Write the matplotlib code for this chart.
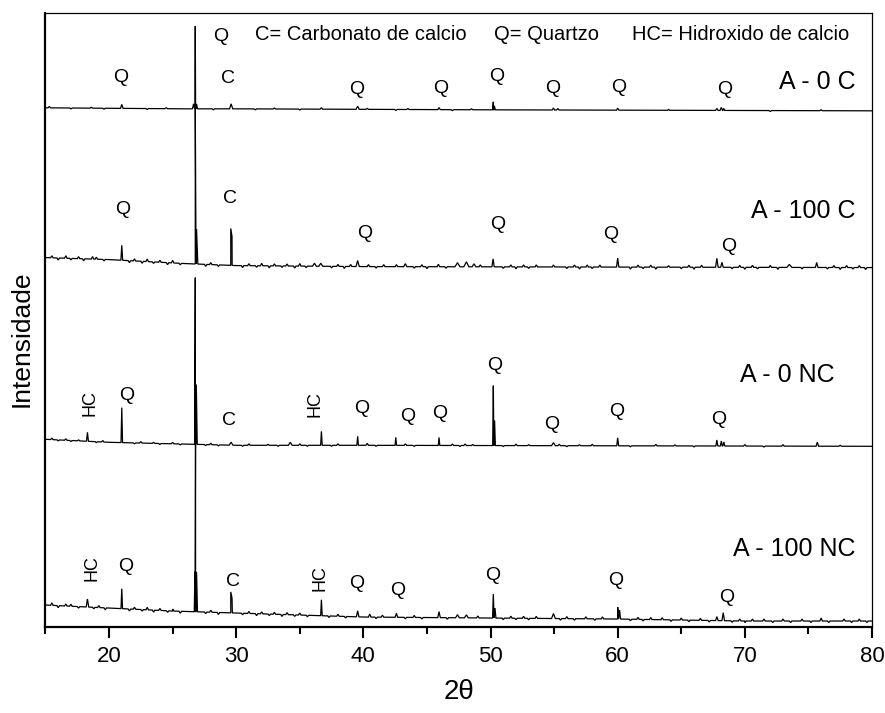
import numpy as np
import matplotlib
matplotlib.use("Agg")
import matplotlib.pyplot as plt
from matplotlib.ticker import MultipleLocator

plt.rcParams['font.family'] = ['Liberation Sans', 'DejaVu Sans']

# ---------------------------------------------------------------------------
# Diffractograms (2-theta in degrees, intensity in arbitrary stacked units)
# Each pattern: background knots, reflections (position, height, width)
# and small background fluctuations (position, height; negative = dip).
# ---------------------------------------------------------------------------
sample_names = ["A - 0 C", "A - 100 C", "A - 0 NC", "A - 100 NC"]

# A - 0 C
bg_x_0c = [15, 26, 30, 50, 80]
bg_y_0c = [1038, 1036, 1036, 1034, 1032]
pk_pos_0c = [21.0, 26.65, 26.78, 26.88, 29.6, 36.7, 39.55, 42.55, 45.95,
             50.22, 50.3, 54.95, 55.3, 60.0, 64.0, 67.8, 68.15, 68.35]
pk_h_0c = [8, 10, 166, 10, 10, 3, 6, -2, 4,
           16, 8, 4, 3, 4, 2, 4, 6, 4]
pk_w_0c = [0.2, 0.2, 0.12, 0.15, 0.25, 0.2, 0.25, 0.2, 0.2,
           0.12, 0.15, 0.2, 0.2, 0.2, 0.15, 0.2, 0.2, 0.15]
nz_pos_0c = [15.3, 17.0, 18.6, 19.6, 23.0, 24.5, 28.2, 31.5, 33.0, 35.0,
             40.3, 43.5, 47.0, 48.5, 72.0, 76.0]
nz_h_0c = [3, -2, 2, -2, -2, 2, -2, -2, 2, -2,
           2, 2, -2, 2, -2, 2]

# A - 100 C
bg_x_100c = [15, 20, 26, 30, 40, 80]
bg_y_100c = [738, 734, 726, 722, 720, 718]
pk_pos_100c = [21.0, 26.78, 26.88, 29.57, 29.67, 36.15, 36.65, 39.55, 43.3,
               47.4, 48.1, 48.7, 50.2, 60.0, 67.8, 68.2, 73.5, 75.65]
pk_h_100c = [30, 310, 70, 74, 58, 6, 6, 12, 6,
             8, 10, 6, 16, 18, 18, 10, 6, 10]
pk_w_100c = [0.14, 0.12, 0.2, 0.22, 0.2, 0.3, 0.3, 0.25, 0.25,
             0.4, 0.4, 0.3, 0.18, 0.18, 0.2, 0.2, 0.4, 0.2]
nz_pos_100c = [15.5, 16.0, 16.6, 17.0, 17.6, 18.0, 18.7, 19.0, 19.6, 21.6, 22.0,
               22.6, 23.0, 23.5, 24.0, 24.6, 25.0, 25.6, 27.6, 28.0, 28.6,
               30.5, 31.0, 31.6, 32.0, 32.6, 33.0, 33.6, 34.0, 34.6, 35.0, 35.5,
               37.5, 38.0, 38.5, 39.0, 40.4, 41.0, 41.6, 42.6, 44.0, 44.6, 45.0,
               45.9, 46.5, 49.2, 51.0, 51.6, 52.0, 52.6, 53.0, 53.6, 54.95,
               56.0, 56.6, 57.0, 57.6, 58.0, 58.6, 61.0, 61.6, 62.0, 62.6,
               63.0, 64.0, 65.0, 65.6, 66.0, 66.6, 69.0, 69.6, 70.0, 70.6,
               71.0, 72.0, 72.6, 74.5, 76.5, 77.0, 77.5, 78.0, 78.5, 79.0, 79.5]
nz_h_100c = [4, -4, 5, -3, 4, -4, 5, 4, -3, -4, 4,
             -4, 5, -3, 4, -4, 5, -3, -4, 4, -3,
             -4, 4, -3, 5, -4, 4, -3, 4, -4, 5, -3,
             -3, 4, -4, 4, 4, -3, 4, 4, -3, 4, -4,
             5, -3, 4, -3, 4, -4, 4, -3, 4, 4,
             -3, 4, -4, 4, -3, 4, -4, 4, -3, 4,
             -4, 3, -3, 4, -4, 4, -3, 4, -4, 4,
             -3, 4, -4, -3, -3, 4, -4, 4, -3, 4, -4]

# A - 0 NC
bg_x_0nc = [15, 20, 30, 40, 80]
bg_y_0nc = [374, 368, 362, 362, 360]
pk_pos_0nc = [18.3, 21.0, 26.78, 26.86, 29.6, 34.25, 36.7, 39.55, 40.3,
              42.55, 45.95, 50.22, 50.32, 54.95, 60.0, 67.8, 68.15, 68.35, 75.7]
pk_h_0nc = [18, 70, 334, 120, 6, 6, 28, 18, 4,
            16, 16, 120, 50, 6, 16, 12, 10, 8, 8]
pk_w_0nc = [0.15, 0.12, 0.1, 0.15, 0.3, 0.3, 0.12, 0.12, 0.2,
            0.12, 0.12, 0.1, 0.12, 0.3, 0.15, 0.15, 0.15, 0.15, 0.2]
nz_pos_0nc = [15.5, 16.0, 16.6, 17.0, 17.6, 19.0, 19.5, 22.0, 22.5, 23.5, 24.0,
              25.0, 25.6, 27.6, 28.0, 28.6, 30.5, 31.0, 32.5, 33.3, 35.0, 35.6,
              37.5, 38.0, 41.0, 43.3, 44.0, 47.0, 47.6, 48.0, 48.6, 51.0, 52.0,
              53.0, 55.4, 56.0, 57.0, 58.0, 61.0, 63.0, 64.5, 66.0, 70.0, 71.5,
              73.0, 77.5]
nz_h_0nc = [3, -2, 3, -2, 2, -2, 3, -2, 3, 2, -2,
            3, -2, -2, 3, -2, -2, 3, 2, -2, 3, -2,
            -2, 3, -2, 3, -2, 3, -2, 3, 2, -2, 3,
            2, 3, -2, 2, 3, -2, 3, 2, -2, 3, -2,
            3, 2]

# A - 100 NC
bg_x_100nc = [15, 20, 25, 30, 40, 50, 60, 70, 80]
bg_y_100nc = [42, 36, 30, 26, 18, 16, 14, 10, 10]
pk_pos_100nc = [18.3, 21.0, 26.75, 26.8, 26.88, 29.57, 29.67, 36.7, 39.55, 40.5,
                42.6, 45.95, 47.4, 48.1, 50.22, 50.35, 54.95, 60.0, 60.15,
                67.8, 68.3, 76.0]
pk_h_100nc = [16, 40, 80, 344, 80, 42, 30, 32, 12, 6,
              8, 12, 6, 6, 48, 20, 10, 24, 18,
              8, 16, 6]
pk_w_100nc = [0.2, 0.12, 0.1, 0.08, 0.15, 0.25, 0.2, 0.12, 0.2, 0.2,
              0.2, 0.2, 0.3, 0.3, 0.12, 0.15, 0.3, 0.15, 0.15,
              0.2, 0.2, 0.2]
nz_pos_100nc = [15.5, 16.0, 16.6, 17.0, 17.6, 18.8, 19.2, 19.7, 21.6, 22.0,
                22.6, 23.0, 23.5, 24.0, 24.6, 25.0, 25.6, 27.6, 28.0, 28.6,
                30.5, 31.0, 31.6, 32.0, 32.6, 33.0, 33.6, 34.0, 34.6, 35.0,
                35.6, 37.3, 38.0, 38.6, 41.0, 41.5, 43.3, 44.0, 44.6, 46.6,
                49.0, 51.0, 51.6, 52.0, 52.6, 53.0, 53.6, 55.5, 56.0, 56.6,
                57.5, 58.2, 58.8, 61.0, 61.6, 62.0, 62.6, 63.5, 64.2, 65.0,
                65.6, 66.5, 67.2, 69.0, 69.6, 70.0, 70.6, 71.5, 72.2, 73.0,
                73.6, 74.5, 75.2, 76.6, 77.8, 78.4, 79.0, 79.6]
nz_h_100nc = [5, -4, 4, 4, -3, -3, 4, -4, -4, 4,
              -3, 5, -4, 4, -3, 4, -4, -3, 4, -4,
              -3, 4, -4, 4, -3, 4, -4, 4, -3, 4,
              -3, -3, 4, -3, -3, 4, -3, 4, -3, -3,
              4, -3, 4, -3, 4, -3, 4, -3, 4, -3,
              4, -3, 4, -3, 4, -3, 4, 4, -3, 4,
              -3, 4, -3, -3, 4, -3, 4, 4, -3, 4,
              -3, 4, -3, -3, 4, -3, 4, -3]

# Phase labels: text, 2-theta, intensity
lab_text_0c = ["Q", "Q", "C", "Q", "Q", "Q", "Q", "Q", "Q"]
lab_x_0c = [20.93, 28.79, 29.34, 39.48, 46.09, 50.49, 54.89, 60.08, 68.41]
lab_y_0c = [1098, 1180, 1096, 1074, 1076, 1100, 1076, 1078, 1074]

lab_text_100c = ["Q", "C", "Q", "Q", "Q", "Q"]
lab_x_100c = [21.09, 29.50, 40.11, 50.56, 59.45, 68.72]
lab_y_100c = [834, 856, 786, 804, 784, 760]

lab_text_0nc = ["HC", "Q", "C", "HC", "Q", "Q", "Q", "Q", "Q", "Q", "Q"]
lab_x_0nc = [18.50, 21.41, 29.42, 36.18, 39.88, 43.49, 46.01, 50.33, 54.81, 59.92, 67.94]
lab_y_0nc = [446, 462, 412, 444, 436, 420, 426, 522, 404, 430, 414]

lab_text_100nc = ["HC", "Q", "C", "HC", "Q", "Q", "Q", "Q", "Q"]
lab_x_100nc = [18.65, 21.33, 29.74, 36.58, 39.48, 42.70, 50.17, 59.84, 68.56]
lab_y_100nc = [116, 120, 90, 96, 86, 72, 102, 92, 58]

# Sample name positions (right edge)
name_x = [78.70, 78.70, 77.05, 78.70]
name_y = [1090, 832, 502, 154]

legend_items = ["C= Carbonato de calcio", "Q= Quartzo", "HC= Hidroxido de calcio"]
legend_x = [31.47, 50.25, 61.10]
legend_y = 1184

x_ticks = [20, 30, 40, 50, 60, 70, 80]

NOISE_WIDTH = 0.2


def trace(bg_x, bg_y, pos, h, w):
    """Polyline through the background knots and every reflection apex."""
    pos = np.asarray(pos, float)
    h = np.asarray(h, float)
    w = np.asarray(w, float)
    left = pos - w / 2
    right = pos + w / 2
    xs = np.concatenate([bg_x, left, pos, right])
    ys = np.concatenate([
        bg_y,
        np.interp(left, bg_x, bg_y),
        np.interp(pos, bg_x, bg_y) + h,
        np.interp(right, bg_x, bg_y),
    ])
    order = np.argsort(xs, kind="stable")
    return xs[order], ys[order]


patterns = [
    (bg_x_0c, bg_y_0c, pk_pos_0c, pk_h_0c, pk_w_0c, nz_pos_0c, nz_h_0c),
    (bg_x_100c, bg_y_100c, pk_pos_100c, pk_h_100c, pk_w_100c, nz_pos_100c, nz_h_100c),
    (bg_x_0nc, bg_y_0nc, pk_pos_0nc, pk_h_0nc, pk_w_0nc, nz_pos_0nc, nz_h_0nc),
    (bg_x_100nc, bg_y_100nc, pk_pos_100nc, pk_h_100nc, pk_w_100nc, nz_pos_100nc, nz_h_100nc),
]
labels = [
    (lab_text_0c, lab_x_0c, lab_y_0c),
    (lab_text_100c, lab_x_100c, lab_y_100c),
    (lab_text_0nc, lab_x_0nc, lab_y_0nc),
    (lab_text_100nc, lab_x_100nc, lab_y_100nc),
]

fig = plt.figure(figsize=(8.85, 7.13), dpi=100)
ax = fig.add_axes([0.0514, 0.1206, 0.9339, 0.8612])

for bx, by, p, hh, ww, npos, nh in patterns:
    pos = list(p) + list(npos)
    hts = list(hh) + list(nh)
    wid = list(ww) + [NOISE_WIDTH] * len(npos)
    x, y = trace(bx, by, pos, hts, wid)
    ax.plot(x, y, color="black", lw=0.9, solid_joinstyle="miter")

for texts, xs, ys in labels:
    for t, lx, ly in zip(texts, xs, ys):
        if t == "HC":
            ax.text(lx, ly, t, rotation=90, ha="center", va="center", fontsize=13)
        else:
            ax.text(lx, ly, t, ha="center", va="center", fontsize=14)

for name, nx, ny in zip(sample_names, name_x, name_y):
    ax.text(nx, ny, name, ha="right", va="center", fontsize=18)

for item, lx in zip(legend_items, legend_x):
    ax.text(lx, legend_y, item, ha="left", va="center", fontsize=14.5)

ax.set_xlim(15, 80)
ax.set_ylim(-2, 1228)
ax.set_xticks(x_ticks)
ax.xaxis.set_minor_locator(MultipleLocator(5))
ax.set_yticks([])
ax.tick_params(axis="x", which="major", direction="out", length=8, width=1.5,
               labelsize=16, pad=6)
ax.tick_params(axis="x", which="minor", direction="out", length=5, width=1.5)
ax.tick_params(axis="x", top=False, which="both")

ax.spines["left"].set_linewidth(1.6)
ax.spines["bottom"].set_linewidth(1.6)
ax.spines["top"].set_linewidth(0.9)
ax.spines["right"].set_linewidth(0.9)

ax.set_xlabel("2θ", fontsize=20, labelpad=8)
ax.set_ylabel("Intensidade", fontsize=19)
ax.yaxis.set_label_coords(-0.014, 0.47)

fig.savefig("out.png", dpi=100)
